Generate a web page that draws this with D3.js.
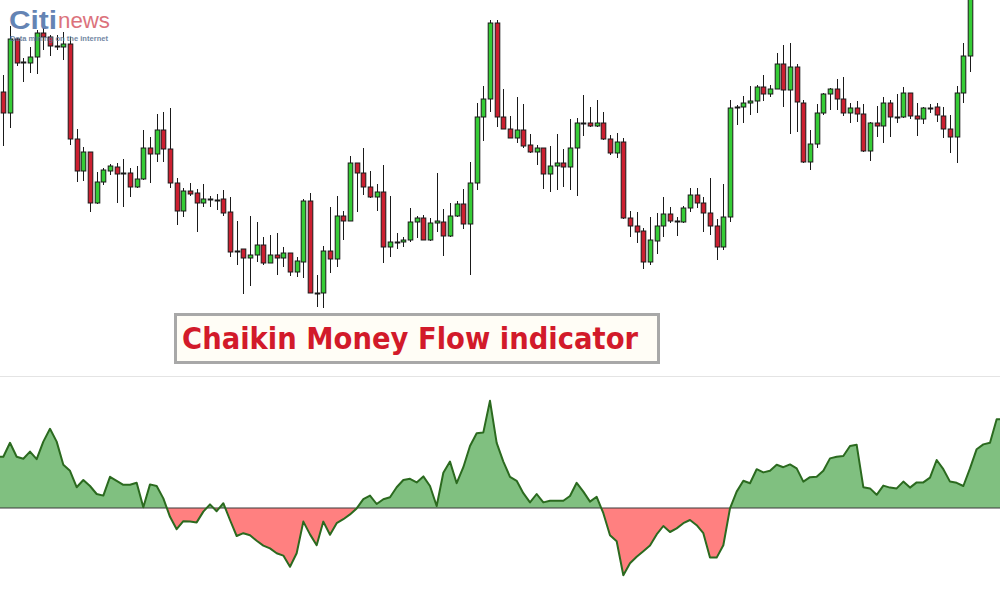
<!DOCTYPE html>
<html><head><meta charset="utf-8">
<script src="https://cdn.jsdelivr.net/npm/d3@7"></script>
<style>html,body{margin:0;padding:0;background:#fff;}svg{display:block;}</style>
</head><body>
<svg id="chart" width="1000" height="608"></svg>
<script>
// ---- price candles (arbitrary price units) ----
const openP  = [238,217,291,267,267,273,297,293,284,283,286,191,159,178,127,148,159,163,156,157,143,151,182,176,200,181,147,119,139,137,127,131,130,131,118,79,81,72,75,85,67,75,72,77,58,68,129,37,37,79,71,114,109,167,157,143,133,138,83,88,88,90,108,112,90,107,108,94,114,126,106,147,213,231,307,213,201,192,200,185,178,182,156,164,167,163,182,207,207,204,207,191,177,188,112,104,99,68,89,104,116,109,108,122,135,127,117,104,83,113,223,223,227,229,243,236,241,266,240,263,227,168,186,217,236,241,231,217,222,216,179,207,204,227,213,213,237,214,211,222,223,214,201,193,237,274];
const highP  = [255,304,292,272,283,300,302,295,295,298,293,201,183,178,158,162,166,167,171,162,164,200,193,216,218,222,152,142,147,141,146,134,136,140,133,109,81,114,108,93,95,97,83,77,73,131,137,55,84,123,134,119,174,167,182,159,146,165,134,97,93,122,114,115,112,157,121,127,129,141,168,227,244,310,310,241,214,233,226,196,185,182,184,196,181,211,212,235,223,230,218,195,197,192,119,118,102,113,117,133,123,113,124,142,142,133,152,111,146,230,225,234,244,245,255,245,277,285,287,266,230,200,226,237,242,251,253,227,229,226,208,224,233,230,236,243,237,227,223,226,227,223,215,244,287,345];
const lowP   = [184,202,264,248,257,256,280,274,280,270,185,148,149,118,126,145,155,127,123,133,142,150,147,168,168,142,105,113,134,98,123,123,120,114,73,65,36,44,68,65,67,55,63,54,53,52,37,23,22,57,63,90,109,118,135,132,119,67,73,81,83,88,92,90,89,98,74,93,113,101,55,140,189,218,203,201,192,187,182,177,165,141,138,140,143,140,134,194,203,203,190,175,172,111,93,87,61,65,76,93,107,94,107,118,122,98,95,70,80,108,205,207,215,217,229,233,241,223,196,198,167,160,182,215,220,220,214,207,208,178,169,193,187,193,207,212,211,194,206,217,208,192,177,167,227,258];
const closeP = [217,291,267,268,273,297,293,284,283,286,191,159,178,127,148,160,164,156,157,143,151,182,176,200,181,147,119,139,136,127,131,130,130,117,78,79,72,75,85,67,75,72,77,58,69,129,37,37,79,71,114,109,167,157,143,133,138,83,88,88,90,108,112,90,107,109,94,114,126,106,147,213,231,307,213,201,192,200,184,178,182,156,164,167,163,182,207,207,204,207,191,177,188,112,104,98,68,90,104,116,109,109,122,135,127,117,104,83,113,222,223,227,229,243,236,241,266,240,263,228,168,186,217,236,241,231,217,222,216,179,207,204,227,213,213,237,214,211,222,222,215,201,193,237,274,338];

// ---- Chaikin Money Flow values (one per period, incl. 4 periods beyond the visible candles) ----
const cmf = [0.128,0.163,0.128,0.123,0.141,0.122,0.166,0.198,0.166,0.108,0.093,0.052,0.070,0.055,0.035,0.031,0.078,0.068,0.058,0.058,0.063,0.002,0.059,0.055,0.024,-0.022,-0.053,-0.033,-0.034,-0.036,-0.009,0.009,-0.008,0.012,-0.030,-0.070,-0.063,-0.068,-0.082,-0.094,-0.101,-0.113,-0.119,-0.147,-0.113,-0.034,-0.066,-0.093,-0.034,-0.067,-0.038,-0.028,-0.016,-0.001,0.022,0.031,0.010,0.022,0.027,0.052,0.070,0.073,0.064,0.079,0.055,0.005,0.088,0.116,0.062,0.102,0.155,0.187,0.189,0.268,0.163,0.116,0.078,0.068,0.037,0.014,0.035,0.014,0.018,0.018,0.018,0.030,0.063,0.041,0.016,0.028,-0.013,-0.068,-0.083,-0.168,-0.138,-0.122,-0.108,-0.094,-0.066,-0.045,-0.060,-0.051,-0.038,-0.030,-0.043,-0.063,-0.124,-0.124,-0.093,-0.001,0.041,0.068,0.062,0.097,0.089,0.093,0.108,0.102,0.109,0.099,0.066,0.077,0.078,0.093,0.124,0.128,0.130,0.155,0.158,0.052,0.049,0.033,0.056,0.051,0.049,0.066,0.051,0.064,0.064,0.076,0.120,0.097,0.066,0.063,0.055,0.099,0.147,0.159,0.163,0.222];

const titleText = "Chaikin Money Flow indicator";
const logoMain = "Citi", logoSub = "news", logoTag = "Data mining on the internet";

const svg = d3.select("#chart");
const nPeriods = cmf.length;
const x = d3.scaleLinear().domain([-0.5, nPeriods - 0.5]).range([0, 1000]);
const yP = d3.scaleLinear().domain([0, 330]).range([330, 0]);
const yC = d3.scaleLinear().domain([0, 0.25]).range([508, 408]);

const candles = openP.map((o, i) => ({i, o, h: highP[i], l: lowP[i], c: closeP[i]}));

svg.append("defs").append("clipPath").attr("id", "priceClip")
  .append("rect").attr("x", 0).attr("y", 0).attr("width", 1000).attr("height", 372);

// separator between panels
svg.append("line").attr("x1", 0).attr("x2", 1000).attr("y1", 376.5).attr("y2", 376.5)
  .attr("stroke", "#e4e4e4").attr("stroke-width", 1);

const pg = svg.append("g").attr("clip-path", "url(#priceClip)");
const bw = 4.6;
const cg = pg.selectAll("g.c").data(candles).join("g").attr("class", "c");
cg.append("line")
  .attr("x1", d => Math.round(x(d.i)) + 0.5).attr("x2", d => Math.round(x(d.i)) + 0.5)
  .attr("y1", d => yP(d.h)).attr("y2", d => yP(d.l))
  .attr("stroke", "#1a1a1a").attr("stroke-width", 1);
cg.append("rect")
  .attr("x", d => Math.round(x(d.i)) + 0.5 - bw / 2)
  .attr("y", d => yP(Math.max(d.o, d.c)))
  .attr("width", bw)
  .attr("height", d => Math.max(1, Math.abs(yP(d.o) - yP(d.c))))
  .attr("fill", d => d.c >= d.o ? "#35cc35" : "#cc1f30")
  .attr("stroke", "#1a1a1a").attr("stroke-width", 1);

// logo
const logo = svg.append("g").attr("opacity", 0.85);
logo.append("text").attr("x", 9).attr("y", 29).text(logoMain)
  .attr("font-family", "Liberation Sans, Arial, sans-serif").attr("font-weight", "bold")
  .attr("font-size", 25).attr("fill", "#4a6fa8").attr("textLength", 48).attr("lengthAdjust", "spacingAndGlyphs");
logo.append("text").attr("x", 58).attr("y", 28).text(logoSub)
  .attr("font-family", "Liberation Sans, Arial, sans-serif")
  .attr("font-size", 22).attr("fill", "#d65a66").attr("textLength", 52).attr("lengthAdjust", "spacingAndGlyphs");
logo.append("text").attr("x", 10).attr("y", 41).text(logoTag)
  .attr("font-family", "Liberation Sans, Arial, sans-serif").attr("font-weight", "bold")
  .attr("font-size", 7).attr("fill", "#5a7394").attr("textLength", 98).attr("lengthAdjust", "spacingAndGlyphs");

// title box
svg.append("rect").attr("x", 175.5).attr("y", 314.5).attr("width", 483).attr("height", 48)
  .attr("fill", "#fffdf6").attr("stroke", "#a8a8a8").attr("stroke-width", 3);
svg.append("text").attr("x", 182).attr("y", 349).text(titleText)
  .attr("font-family", "DejaVu Sans, Verdana, sans-serif").attr("font-weight", "bold")
  .attr("font-size", 30).attr("fill", "#d21a2a")
  .attr("textLength", 456).attr("lengthAdjust", "spacingAndGlyphs");

// CMF panel
const pts = [{i: -0.5, v: cmf[0]}, ...cmf.map((v, i) => ({i, v})), {i: nPeriods - 0.5, v: cmf[nPeriods - 1]}];
const defs = svg.select("defs");
defs.append("clipPath").attr("id", "posClip").append("rect")
  .attr("x", 0).attr("y", 0).attr("width", 1000).attr("height", yC(0));
defs.append("clipPath").attr("id", "negClip").append("rect")
  .attr("x", 0).attr("y", yC(0)).attr("width", 1000).attr("height", 608 - yC(0));
const area = d3.area().x(d => x(d.i)).y0(yC(0)).y1(d => yC(d.v));
svg.append("path").datum(pts).attr("d", area).attr("fill", "#80c080").attr("clip-path", "url(#posClip)");
svg.append("path").datum(pts).attr("d", area).attr("fill", "#ff8080").attr("clip-path", "url(#negClip)");
svg.append("line").attr("x1", 0).attr("x2", 1000).attr("y1", yC(0)).attr("y2", yC(0))
  .attr("stroke", "#3a3a3a").attr("stroke-width", 1.2);
svg.append("path").datum(pts)
  .attr("d", d3.line().x(d => x(d.i)).y(d => yC(d.v)))
  .attr("fill", "none").attr("stroke", "#2b6a1f").attr("stroke-width", 2).attr("stroke-linejoin", "round");
</script>
</body></html>
